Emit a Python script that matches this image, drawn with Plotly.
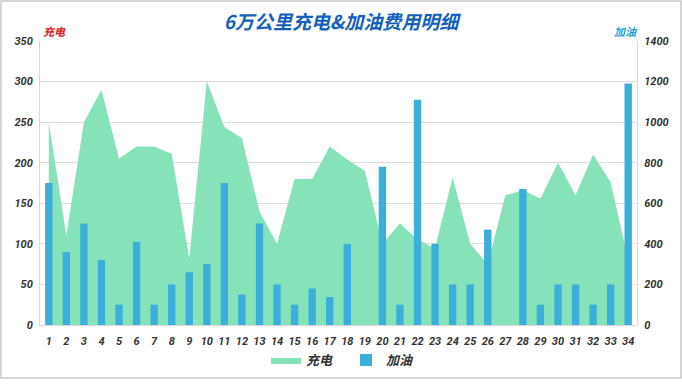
import plotly.graph_objects as go

categories = [str(i) for i in range(1, 35)]
charge = [250, 110, 250, 290, 205, 220, 220, 211, 82, 300,
          244, 230, 140, 100, 180, 180, 220, 204, 190, 100,
          125, 105, 95, 182, 100, 75, 160, 166, 156, 200,
          160, 210, 176, 80]
fuel = [700, 360, 500, 320, 100, 410, 100, 200, 260, 300,
        700, 150, 500, 200, 100, 180, 138, 400, 0, 780,
        100, 1110, 400, 200, 200, 470, 0, 670, 100, 200,
        200, 100, 200, 1190]

L, R, T, B = 40, 45, 41, 63
W, H = 682, 388
pw, ph = W - L - R, H - T - B

def px(x):
    return (x - L) / pw

def py(y):
    return (H - B - y) / ph

tickfont = dict(family="Roboto", size=11, color="#333333", weight="bold", style="italic")

fig = go.Figure()
fig.add_trace(go.Scatter(
    x=categories, y=charge, name="充电", mode="lines",
    line=dict(width=0, color="#86e3b9"), fill="tozeroy", fillcolor="#86e3b9",
    yaxis="y"))
fig.add_trace(go.Bar(
    x=categories, y=fuel, name="加油", marker=dict(color="#3caedc", line=dict(width=0)),
    yaxis="y2"))

fig.update_layout(
    width=W, height=H,
    margin=dict(l=L, r=R, t=T, b=B),
    paper_bgcolor="white", plot_bgcolor="white",
    bargap=0.58,
    title=dict(text="6万公里充电&加油费用明细", x=0.5, xanchor="center",
               y=1 - 22 / H, yanchor="middle", yref="container",
               font=dict(family="Noto Sans CJK SC", size=19, color="#1560bd",
                         weight="bold", style="italic")),
    xaxis=dict(type="category", tickmode="array", tickvals=categories, ticktext=categories,
               tickangle=0, tickfont=tickfont, showline=True, linecolor="#d9d9d9",
               linewidth=1, showgrid=False, ticks="", ticklabelstandoff=6),
    yaxis=dict(range=[0, 350], dtick=50, tickfont=tickfont, showgrid=True,
               gridcolor="#dcdcdc", gridwidth=1, showline=True, linecolor="#d9d9d9",
               zeroline=False, ticks="", ticklabelstandoff=4),
    yaxis2=dict(range=[0, 1400], dtick=200, overlaying="y", side="right",
                tickfont=tickfont, showgrid=False, showline=True, linecolor="#d9d9d9",
                zeroline=False, ticks="", ticklabelstandoff=4),
    legend=dict(orientation="h", x=px(346), xanchor="center", y=py(360), yanchor="middle",
                font=dict(family="Noto Sans CJK SC", size=13, color="#333333",
                          weight="bold", style="italic"),
                itemwidth=30, entrywidth=35, traceorder="normal"),
    showlegend=True,
)

fig.add_annotation(text="充电", xref="paper", yref="paper", x=px(54), y=py(31),
                   showarrow=False, xanchor="center", yanchor="middle",
                   font=dict(family="Noto Sans CJK SC", size=11, color="#e02020",
                             weight="bold", style="italic"))
fig.add_annotation(text="加油", xref="paper", yref="paper", x=px(626), y=py(31),
                   showarrow=False, xanchor="center", yanchor="middle",
                   font=dict(family="Noto Sans CJK SC", size=11, color="#1e9fd8",
                             weight="bold", style="italic"))

fig.add_shape(type="rect", xref="paper", yref="paper",
              x0=px(1), x1=px(681), y0=py(378), y1=py(1),
              line=dict(color="#c8c8c8", width=1.5), layer="below")

fig.write_html("out.html", config={"displayModeBar": False},
               post_script="document.body.style.margin='0';document.body.style.overflow='hidden';")
